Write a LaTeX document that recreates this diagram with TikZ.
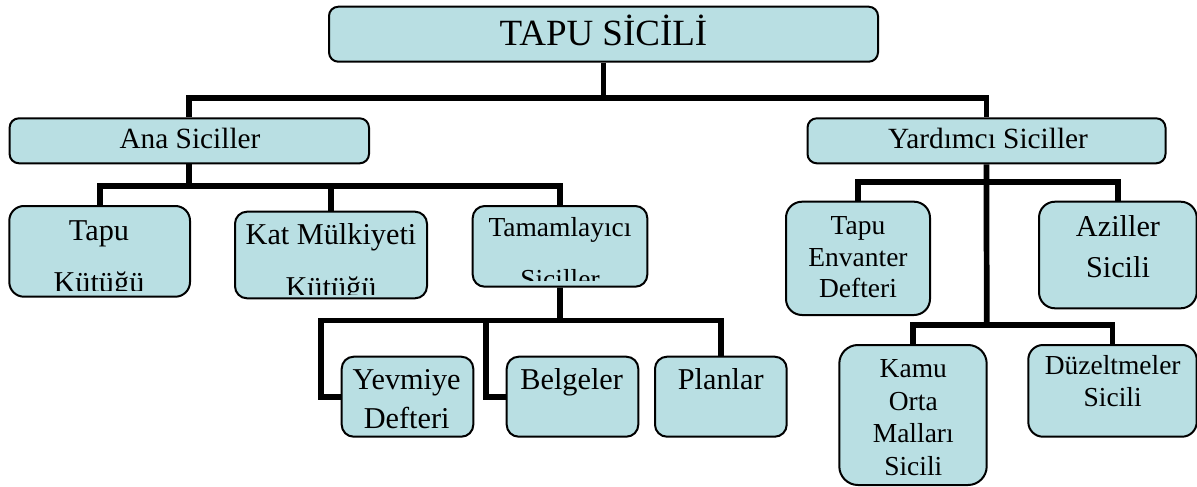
\documentclass[tikz,border=0pt]{standalone}
\usepackage{fontspec}
\setmainfont{Liberation Serif}
\usetikzlibrary{fit}
\definecolor{boxfill}{RGB}{185,223,227}
\tikzset{
  box/.style={draw=black, line width=1.5pt, fill=boxfill, rounded corners=#1, inner sep=0pt},
  box/.default=8pt,
  conn/.style={draw=black, line width=4.3pt, line join=miter},
  big/.style={anchor=base, inner sep=0pt, font=\fontsize{27.75pt}{30pt}\selectfont},
  mid/.style={anchor=base, inner sep=0pt, font=\fontsize{22pt}{24pt}\selectfont},
  std/.style={anchor=base, inner sep=0pt, font=\fontsize{22.7pt}{25pt}\selectfont},
  sml/.style={anchor=base, inner sep=0pt, font=\fontsize{20.6pt}{23pt}\selectfont},
}
\begin{document}
\begin{tikzpicture}[x=0.75pt, y=-0.75pt]
\useasboundingbox (0,0) rectangle (1197,486);
% connectors first (under boxes)
\coordinate (j1) at (603.5,98);
\coordinate (j2) at (189.3,186);
\coordinate (j3) at (560,320.5);
\coordinate (k1) at (321,320.5);
\coordinate (k2) at (486,320.5);
\coordinate (j4) at (986.7,182);
\coordinate (j5) at (986.7,325);
% boxes
\node[box=7pt, fit={(329,6.7) (878,61.7)}] (top) {};
\node[box=7pt, fit={(9.6,118.3) (369,163.3)}] (ana) {};
\node[box=7pt, fit={(807.5,118.3) (1165.5,163.3)}] (yard) {};
\node[box=11pt, fit={(9.3,206) (190,296.7)}] (tapu) {};
\node[box=9pt, fit={(235,211.7) (427,298.3)}] (kat) {};
\node[box=9pt, fit={(472.7,206) (647.3,286.7)}] (tam) {};
\node[box=12pt, fit={(786,201.7) (930,315)}] (env) {};
\node[box=12pt, fit={(1039,201.7) (1196.7,308.3)}] (az) {};
\node[box=9pt, fit={(341.7,356.7) (473.3,436.7)}] (yev) {};
\node[box=9pt, fit={(506.7,356.7) (638.3,436.7)}] (bel) {};
\node[box=9pt, fit={(655,356.7) (786.7,436.7)}] (plan) {};
\node[box=14pt, fit={(839.3,345) (986.7,485)}] (kamu) {};
\node[box=11pt, fit={(1028.3,345) (1196.7,436.7)}] (duz) {};
% connectors
\draw[conn] (top.south) -- (j1);
\draw[conn] (ana.north) |- (j1) -| (yard.north);
\draw[conn] (ana.south) -- (j2);
\draw[conn] (tapu.north) |- (j2) -| (tam.north);
\draw[conn] (kat.north) -- (kat.north |- j2);
\draw[conn] (tam.south) -- (j3);
\draw[conn] (yev.west) -| (k1) -| (plan.north);
\draw[conn] (bel.west) -| (k2);
\draw[conn] (yard.south) -- (j5);
\draw[conn] (env.north) |- (j4) -| (az.north);
\draw[conn] (kamu.north) |- (j5) -| (duz.north);
% texts
\node[big] (ttop) at (603.5,45) {TAPU SİCİLİ};
\node[mid] (tana) at (190,148.3) {Ana Siciller};
\node[mid] (tyard) at (988,148.3) {Yardımcı Siciller};
\node[std] (ttapu1) at (99,240) {Tapu};
\begin{scope}
\clip (9.3,206) rectangle (190,290.7);
\node[std] (ttapu2) at (99,292.5) {Kütüğü};
\end{scope}
\node[std] (tkat1) at (331,244) {Kat Mülkiyeti};
\begin{scope}
\clip (235,211.7) rectangle (427,294);
\node[std] (tkat2) at (331,297.3) {Kütüğü};
\end{scope}
\node[sml] (ttam1) at (560,236.7) {Tamamlayıcı};
\begin{scope}
\clip (472.7,206) rectangle (647.3,280.7);
\node[sml] (ttam2) at (560,288.5) {Siciller};
\end{scope}
\node[sml] (tenv1) at (858,234) {Tapu};
\node[sml] (tenv2) at (858,266) {Envanter};
\node[sml] (tenv3) at (858,297.3) {Defteri};
\node[std] (taz1) at (1118,236) {Aziller};
\node[std] (taz2) at (1118,277.3) {Sicili};
\node[std] (tyev1) at (406.7,389.3) {Yevmiye};
\node[std] (tyev2) at (406.7,428.3) {Defteri};
\node[std] (tbel) at (571.7,389.3) {Belgeler};
\node[std] (tplan) at (720.7,389.3) {Planlar};
\node[sml] (tkamu1) at (913.3,377.3) {Kamu};
\node[sml] (tkamu2) at (913.3,410) {Orta};
\node[sml] (tkamu3) at (913.3,442.7) {Malları};
\node[sml] (tkamu4) at (913.3,475) {Sicili};
\node[sml] (tduz1) at (1112.7,374) {Düzeltmeler};
\node[sml] (tduz2) at (1112.7,406) {Sicili};
\end{tikzpicture}
\end{document}
